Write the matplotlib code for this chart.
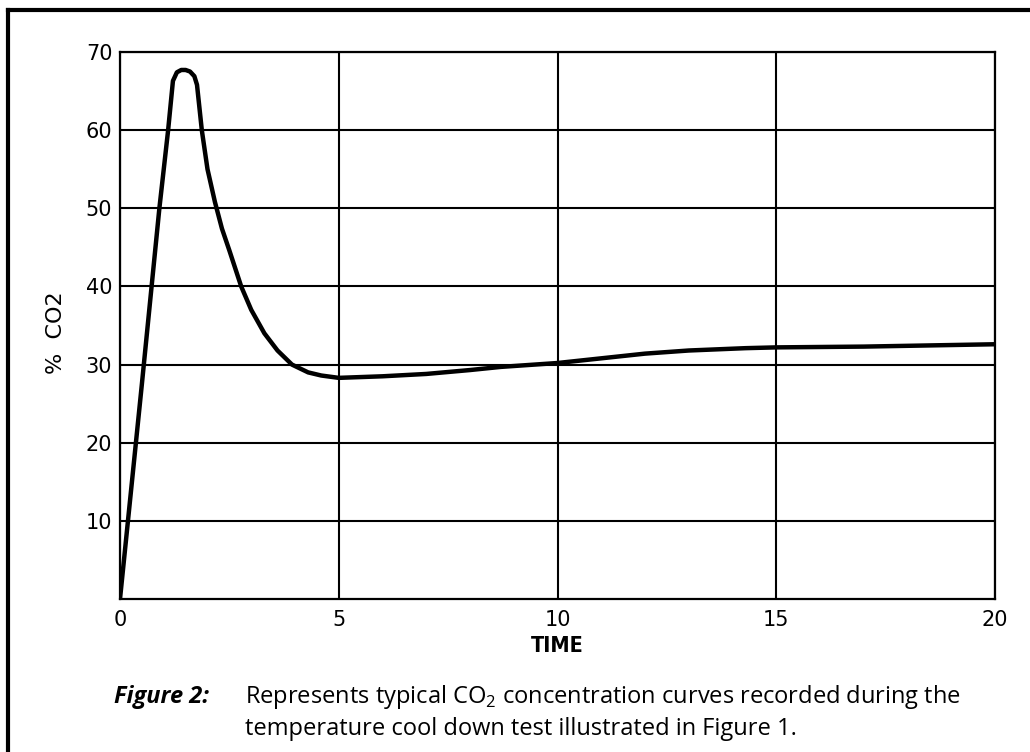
import matplotlib
matplotlib.use("Agg")
import matplotlib.pyplot as plt
from matplotlib.lines import Line2D

# Data
time = [0.0, 0.5, 0.9, 1.1, 1.21, 1.3, 1.4, 1.5, 1.6, 1.7, 1.76, 1.87, 2.0, 2.17,
        2.33, 2.5, 2.77, 3.0, 3.3, 3.6, 3.93, 4.3, 4.6, 5.0, 6.0, 7.0, 8.0, 8.7,
        10.0, 11.0, 12.0, 13.0, 14.3, 15.0, 17.0, 20.0]
co2 = [0.0, 27.5, 50.0, 60.0, 66.3, 67.4, 67.7, 67.7, 67.5, 66.9, 65.8, 60.0, 55.0, 50.8,
       47.4, 44.6, 40.0, 37.0, 34.0, 31.8, 30.0, 29.0, 28.6, 28.3, 28.5, 28.8, 29.3, 29.7,
       30.2, 30.8, 31.4, 31.8, 32.1, 32.2, 32.3, 32.6]
xticks = [0, 5, 10, 15, 20]
yticks = [10, 20, 30, 40, 50, 60, 70]

plt.rcParams['mathtext.fontset'] = 'custom'
plt.rcParams['mathtext.rm'] = 'Open Sans'

fig = plt.figure(figsize=(10.30, 7.52), dpi=100)
ax = fig.add_axes([120/1030, 153/752, 875/1030, 547/752])

ax.plot(time, co2, color='black', lw=3.2, solid_joinstyle='round', solid_capstyle='round',
        zorder=3)
ax.set_xlim(0, 20)
ax.set_ylim(0, 70)
ax.set_xticks(xticks)
ax.set_yticks(yticks)
ax.grid(True, color='black', lw=1.5)
for s in ax.spines.values():
    s.set_linewidth(1.6)
ax.tick_params(axis='x', length=0, pad=8, labelsize=15)
ax.tick_params(axis='y', length=0, pad=5.5, labelsize=15)
for lab in ax.get_xticklabels() + ax.get_yticklabels():
    lab.set_family('DejaVu Sans')

ax.set_xlabel('TIME', fontsize=15.5, fontweight='bold', labelpad=4, family='DejaVu Sans',
              fontstretch='condensed')
ax.set_ylabel('%  CO2', fontsize=16, family='DejaVu Sans')
ax.yaxis.set_label_coords(-0.062, 0.487)

# Outer frame (only left and top edges visible in the reference)
fig.add_artist(Line2D([8/1030, 8/1030], [0, 1 - 10/752], transform=fig.transFigure,
                      color='black', lw=3))
fig.add_artist(Line2D([8/1030, 1.0], [1 - 10/752, 1 - 10/752], transform=fig.transFigure,
                      color='black', lw=3))

fig.text(114/1030, 1 - 703/752, 'Figure 2:', fontsize=17, fontweight='bold',
         style='italic', family='Open Sans', va='baseline', ha='left')
fig.text(245/1030, 1 - 703/752, 'Represents typical CO$_2$ concentration curves recorded during the',
         fontsize=17, family='Open Sans', va='baseline', ha='left')
fig.text(245/1030, 1 - 735/752, 'temperature cool down test illustrated in Figure 1.',
         fontsize=17, family='Open Sans', va='baseline', ha='left')

fig.savefig('out.png', dpi=100)
